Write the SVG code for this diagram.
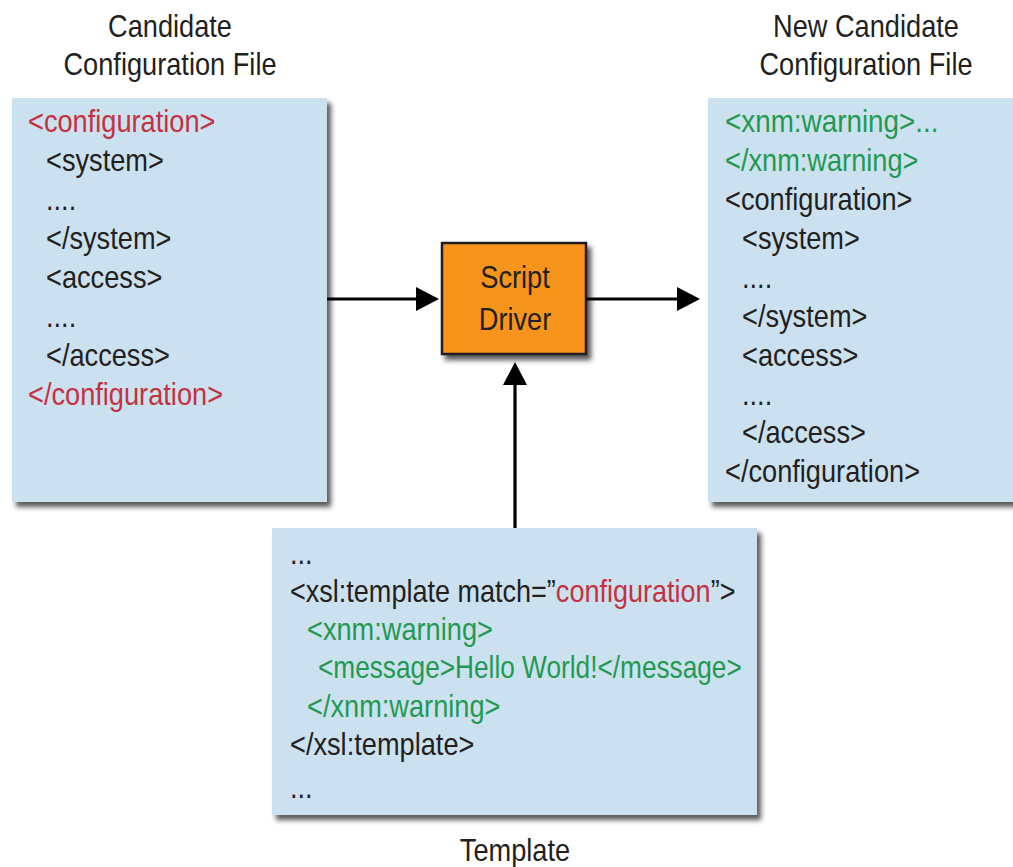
<svg xmlns="http://www.w3.org/2000/svg" width="1013" height="867" viewBox="0 0 1013 867">
<style>
text { font-family: "Liberation Sans", Arial, sans-serif; fill: #231f20; font-size: 32px; }
.t { text-anchor: middle; }
.r { fill: #c4313f; }
.g { fill: #1f9a50; }
.box { fill: #cce1ef; filter: url(#sh); }
.drv { fill: #f7941d; stroke: #231f20; stroke-width: 2.5; filter: url(#sh); }
.ln { stroke: #000; stroke-width: 3.2; fill: none; }
.ah { fill: #000; }
</style>
<defs>
<filter id="sh" x="-10%" y="-10%" width="125%" height="125%">
<feDropShadow dx="4" dy="5" stdDeviation="2.5" flood-color="#222" flood-opacity="0.75"/>
</filter>
</defs>
<rect width="1013" height="867" fill="#fff"/>

<g id="candidate">
<text class="t" transform="translate(170 37) scale(.85 1)">Candidate</text>
<text class="t" transform="translate(170 75) scale(.85 1)">Configuration File</text>
<rect class="box" x="12" y="98" width="315" height="404"/>
<text class="r" transform="translate(28 132) scale(.85 1)">&lt;configuration&gt;</text>
<text transform="translate(46 171) scale(.85 1)">&lt;system&gt;</text>
<text transform="translate(46 210) scale(.85 1)">....</text>
<text transform="translate(46 249) scale(.85 1)">&lt;/system&gt;</text>
<text transform="translate(46 288) scale(.85 1)">&lt;access&gt;</text>
<text transform="translate(46 327) scale(.85 1)">....</text>
<text transform="translate(46 366) scale(.85 1)">&lt;/access&gt;</text>
<text class="r" transform="translate(28 405) scale(.85 1)">&lt;/configuration&gt;</text>
</g>

<g id="newcandidate">
<text class="t" transform="translate(866 37) scale(.85 1)">New Candidate</text>
<text class="t" transform="translate(866 75) scale(.85 1)">Configuration File</text>
<rect class="box" x="708" y="98" width="320" height="404"/>
<text class="g" transform="translate(725 132) scale(.87 1)">&lt;xnm:warning&gt;...</text>
<text class="g" transform="translate(725 171) scale(.85 1)">&lt;/xnm:warning&gt;</text>
<text transform="translate(725 210) scale(.85 1)">&lt;configuration&gt;</text>
<text transform="translate(742 249) scale(.85 1)">&lt;system&gt;</text>
<text transform="translate(742 288) scale(.85 1)">....</text>
<text transform="translate(742 327) scale(.85 1)">&lt;/system&gt;</text>
<text transform="translate(742 366) scale(.85 1)">&lt;access&gt;</text>
<text transform="translate(742 405) scale(.85 1)">....</text>
<text transform="translate(742 443) scale(.85 1)">&lt;/access&gt;</text>
<text transform="translate(725 482) scale(.85 1)">&lt;/configuration&gt;</text>
</g>

<g id="driver">
<rect class="drv" x="442" y="243" width="144" height="111"/>
<text class="t" transform="translate(515 288) scale(.85 1)">Script</text>
<text class="t" transform="translate(515 330) scale(.85 1)">Driver</text>
</g>

<g id="template">
<rect class="box" x="272" y="528" width="485" height="287"/>
<text transform="translate(290 564) scale(.85 1)">...</text>
<text transform="translate(290 602) scale(.845 1)">&lt;xsl:template match=”<tspan class="r">configuration</tspan>”&gt;</text>
<text class="g" transform="translate(307 640) scale(.85 1)">&lt;xnm:warning&gt;</text>
<text class="g" transform="translate(318 678) scale(.82 1)">&lt;message&gt;Hello World!&lt;/message&gt;</text>
<text class="g" transform="translate(307 717) scale(.85 1)">&lt;/xnm:warning&gt;</text>
<text transform="translate(290 755) scale(.85 1)">&lt;/xsl:template&gt;</text>
<text transform="translate(290 798) scale(.85 1)">...</text>
<text class="t" transform="translate(515 861) scale(.85 1)">Template</text>
</g>

<g id="connectors">
<line class="ln" x1="327" y1="299" x2="420" y2="299"/>
<polygon class="ah" points="416,287 439,299 416,311"/>
<line class="ln" x1="586" y1="299" x2="680" y2="299"/>
<polygon class="ah" points="677,287 700,299 677,311"/>
<line class="ln" x1="515" y1="528" x2="515" y2="382"/>
<polygon class="ah" points="503,385 515,362 527,385"/>
</g>
</svg>
